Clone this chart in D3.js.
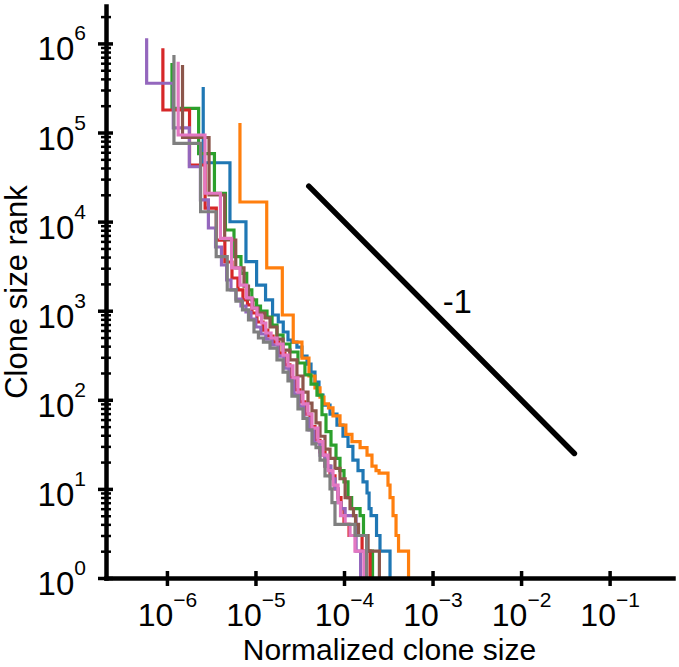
<!DOCTYPE html>
<html>
<head>
<meta charset="utf-8">
<script src="https://cdn.jsdelivr.net/npm/d3@7"></script>
<style>
body { margin: 0; background: #fff; }
svg { display: block; font-family: "Liberation Sans", Arial, Helvetica, sans-serif; }
</style>
</head>
<body>
<script>

// normalized clone size (x) and rank at the top of each step (y)
const blueSize = [2.57e-6, 5.15e-6, 7.81e-6, 1.03e-5, 1.30e-5, 1.56e-5, 1.81e-5, 2.06e-5, 2.33e-5, 2.58e-5, 2.94e-5, 3.35e-5, 3.82e-5, 4.24e-5, 4.70e-5, 5.22e-5, 5.79e-5, 6.95e-5, 8.33e-5, 9.74e-5, 1.11e-4, 1.26e-4, 1.44e-4, 1.64e-4, 1.82e-4, 1.92e-4, 2.02e-4, 2.33e-4, 2.55e-4, 3.31e-4];
const blueRank = [3.24e5, 4.58e4, 9970, 3550, 1940, 1320, 895, 747, 577, 469, 445, 391, 310, 252, 205, 158, 113, 87, 69, 52, 39, 30, 21, 16, 12, 9, 6, 5, 3, 2];

const orangeSize = [6.68e-6, 1.34e-5, 2.01e-5, 2.67e-5, 3.35e-5, 4.02e-5, 4.70e-5, 5.36e-5, 5.94e-5, 6.68e-5, 7.51e-5, 9.01e-5, 1.05e-4, 1.23e-4, 1.52e-4, 1.82e-4, 2.07e-4, 2.30e-4, 2.49e-4, 3.14e-4, 3.31e-4, 3.58e-4, 3.87e-4, 4.13e-4, 5.36e-4];
const orangeRank = [1.28e5, 1.66e4, 3020, 895, 445, 294, 185, 136, 107, 90, 81, 66, 52, 41, 34, 29, 24, 18, 16, 15, 11, 8, 5, 3, 2];

const greenSize = [1.14e-6, 2.28e-6, 3.44e-6, 4.58e-6, 5.72e-6, 6.86e-6, 7.97e-6, 9.10e-6, 1.03e-5, 1.14e-5, 1.35e-5, 1.54e-5, 1.75e-5, 2.05e-5, 2.45e-5, 3.02e-5, 3.62e-5, 4.24e-5, 4.95e-5, 5.64e-5, 6.26e-5, 7.13e-5, 8.12e-5, 9.01e-5, 1.0e-4, 1.11e-4, 1.22e-4, 1.52e-4, 1.66e-4, 1.80e-4, 2.10e-4];
const greenRank = [6.03e5, 1.87e5, 5.81e4, 2.08e4, 8050, 4040, 2630, 1710, 1320, 1130, 992, 850, 691, 534, 423, 344, 259, 190, 150, 113, 68, 44, 31, 22, 16, 12, 8, 6, 5, 3, 2];

const redSize = [9.0e-7, 1.80e-6, 2.70e-6, 3.61e-6, 4.51e-6, 5.43e-6, 6.34e-6, 7.22e-6, 8.12e-6, 9.13e-6, 1.04e-5, 1.22e-5, 1.38e-5, 1.58e-5, 1.84e-5, 2.15e-5, 2.45e-5, 2.80e-5, 3.18e-5, 3.62e-5, 4.13e-5, 4.70e-5, 5.36e-5, 6.10e-5, 6.95e-5, 7.91e-5, 8.56e-5, 9.25e-5, 1.0e-4, 1.14e-4, 1.60e-4, 1.97e-4];
const redRank = [8.81e5, 1.79e5, 4.32e4, 1.42e4, 6200, 3520, 2330, 1710, 1320, 1160, 942, 747, 607, 520, 445, 335, 246, 176, 129, 95, 69, 50, 35, 26, 18, 14, 10, 8, 6, 4, 3, 2];

const purpleSize = [5.90e-7, 1.18e-6, 1.79e-6, 2.39e-6, 2.94e-6, 3.54e-6, 4.13e-6, 4.72e-6, 5.29e-6, 6.02e-6, 6.86e-6, 7.81e-6, 8.90e-6, 1.01e-5, 1.15e-5, 1.31e-5, 1.54e-5, 1.80e-5, 2.10e-5, 2.39e-5, 2.72e-5, 3.10e-5, 3.53e-5, 4.02e-5, 4.58e-5, 5.36e-5, 6.10e-5, 7.13e-5, 7.91e-5, 8.56e-5, 9.25e-5, 1.03e-4, 1.37e-4, 1.54e-4];
const purpleRank = [1.14e6, 3.57e5, 1.13e5, 4.13e4, 1.75e4, 8480, 5190, 3260, 2210, 1710, 1350, 1130, 967, 807, 656, 548, 481, 412, 310, 227, 167, 116, 85, 62, 46, 33, 24, 18, 13, 10, 7, 6, 5, 2];

const brownSize = [1.50e-6, 2.99e-6, 4.49e-6, 5.99e-6, 7.42e-6, 8.34e-6, 9.37e-6, 1.07e-5, 1.28e-5, 1.46e-5, 1.75e-5, 2.05e-5, 2.45e-5, 2.94e-5, 3.44e-5, 3.92e-5, 4.35e-5, 4.83e-5, 5.36e-5, 6.10e-5, 6.95e-5, 7.91e-5, 9.01e-5, 1.03e-4, 1.17e-4, 1.28e-4, 1.35e-4, 1.46e-4, 1.87e-4, 2.51e-4];
const brownRank = [5.72e5, 8.79e4, 1.99e4, 6220, 3020, 1890, 1350, 1070, 942, 828, 656, 481, 362, 280, 185, 122, 92, 75, 55, 39, 28, 22, 17, 13, 8, 6, 5, 4, 3, 2];

const pinkSize = [1.34e-6, 2.69e-6, 4.02e-6, 5.37e-6, 6.68e-6, 7.91e-6, 9.13e-6, 1.04e-5, 1.17e-5, 1.31e-5, 1.50e-5, 1.75e-5, 2.05e-5, 2.33e-5, 2.65e-5, 3.02e-5, 3.44e-5, 3.92e-5, 4.35e-5, 5.08e-5, 5.79e-5, 6.59e-5, 7.51e-5, 8.56e-5, 9.13e-5, 1.03e-4, 1.17e-4, 1.33e-4, 1.68e-4];
const pinkRank = [6.23e5, 9.38e4, 2.08e4, 6500, 3020, 1940, 1390, 1070, 895, 728, 562, 494, 423, 318, 240, 176, 122, 90, 69, 48, 34, 24, 16, 11, 7, 5, 4, 3, 2];

const graySize = [1.20e-6, 2.40e-6, 3.60e-6, 4.80e-6, 6.02e-6, 7.13e-6, 8.34e-6, 9.62e-6, 1.08e-5, 1.23e-5, 1.46e-5, 1.75e-5, 2.05e-5, 2.33e-5, 2.58e-5, 3.02e-5, 3.44e-5, 3.82e-5, 4.35e-5, 4.83e-5, 5.36e-5, 6.10e-5, 6.95e-5, 7.31e-5, 7.91e-5, 1.33e-4, 1.80e-4];
const grayRank = [7.41e5, 7.56e4, 1.29e4, 4040, 1710, 1280, 1020, 787, 577, 494, 445, 381, 280, 205, 163, 110, 79, 62, 46, 32, 29, 21, 14, 10, 7, 4, 3];

// slope -1 guide line
const refSize = [4.0e-5, 4.0e-2];
const refRank = [2.5e4, 25];
const refLabel = '-1';
const refLabelAt = [1.3e-3, 940];

const xTickValues = [1e-6, 1e-5, 1e-4, 1e-3, 1e-2, 1e-1];
const xTickLabels = ['\u22126', '\u22125', '\u22124', '\u22123', '\u22122', '\u22121'];
const yTickValues = [1, 1e1, 1e2, 1e3, 1e4, 1e5, 1e6];
const yTickLabels = ['0', '1', '2', '3', '4', '5', '6'];

const series = [
    { size: blueSize, rank: blueRank, color: '#1f77b4' },
    { size: orangeSize, rank: orangeRank, color: '#ff7f0e' },
    { size: greenSize, rank: greenRank, color: '#2ca02c' },
    { size: redSize, rank: redRank, color: '#d62728' },
    { size: purpleSize, rank: purpleRank, color: '#9467bd' },
    { size: brownSize, rank: brownRank, color: '#8c564b' },
    { size: pinkSize, rank: pinkRank, color: '#e377c2' },
    { size: graySize, rank: grayRank, color: '#7f7f7f' },
];

const width = 679;
const height = 667;
const plotLeft = 106;
const plotRight = 673;
const plotBottom = 578;
const plotTop = 6;

const x = d3.scaleLog()
    .domain([2.05e-7, 0.52])
    .range([plotLeft, plotRight]);

const y = d3.scaleLog()
    .domain([1, 2.63e6])
    .range([plotBottom, plotTop]);

const svg = d3.select('body').append('svg')
    .attr('width', width)
    .attr('height', height)
    .style('background', '#fff');

const stairs = d3.line()
    .x(d => x(d[0]))
    .y(d => y(d[1]))
    .curve(d3.curveStepBefore);

series.forEach((s) => {
    const pts = s.size.map((v, i) => [v, s.rank[i]]);
    pts.push([s.size[s.size.length - 1], 1]);
    svg.append('path')
        .attr('d', stairs(pts))
        .attr('fill', 'none')
        .attr('stroke', s.color)
        .attr('stroke-width', 3.2);
});

const refLine = d3.line()
    .x(d => x(d[0]))
    .y(d => y(d[1]));

svg.append('path')
    .attr('d', refLine(refSize.map((v, i) => [v, refRank[i]])))
    .attr('stroke', '#000')
    .attr('stroke-width', 5.5)
    .attr('stroke-linecap', 'round')
    .attr('fill', 'none');

svg.append('text')
    .attr('x', x(refLabelAt[0]))
    .attr('y', y(refLabelAt[1]))
    .style('font-size', '33px')
    .text(refLabel);

// minor ticks on the rank axis
const yMinor = y.ticks().filter(v => yTickValues.indexOf(v) < 0);

const yMinorAxis = svg.append('g')
    .attr('transform', `translate(${plotLeft},0)`)
    .call(d3.axisLeft(y).tickValues(yMinor).tickSize(5).tickFormat(''));
yMinorAxis.select('.domain').remove();
yMinorAxis.selectAll('.tick line')
    .attr('x1', 5)
    .attr('stroke-width', 2.5);

const yAxis = svg.append('g')
    .attr('transform', `translate(${plotLeft},0)`)
    .call(d3.axisLeft(y).tickValues(yTickValues).tickSize(8).tickSizeOuter(0).tickFormat(''));
yAxis.select('.domain')
    .attr('stroke-width', 4.5)
    .attr('stroke-linecap', 'square');
yAxis.selectAll('.tick line')
    .attr('x1', 7)
    .attr('stroke-width', 3.5);
yAxis.selectAll('.tick text').remove();

const yLab = yAxis.selectAll('.tick').append('text')
    .attr('x', -20)
    .attr('y', 16.5)
    .attr('text-anchor', 'end')
    .attr('fill', '#000')
    .style('font-size', '33px')
    .style('font-family', '"Liberation Sans", Arial, sans-serif');
yLab.append('tspan').text('10');
yLab.append('tspan')
    .attr('dy', -20)
    .style('font-size', '21px')
    .text((d, i) => yTickLabels[i]);

const xAxis = svg.append('g')
    .attr('transform', `translate(0,${plotBottom})`)
    .call(d3.axisBottom(x).tickValues(xTickValues).tickSize(8).tickSizeOuter(0).tickFormat(''));
xAxis.select('.domain')
    .attr('stroke-width', 4.5)
    .attr('stroke-linecap', 'square');
xAxis.selectAll('.tick line')
    .attr('y1', -7)
    .attr('stroke-width', 3.5);
xAxis.selectAll('.tick text').remove();

const xLab = xAxis.selectAll('.tick').append('text')
    .attr('y', 48)
    .attr('text-anchor', 'middle')
    .attr('fill', '#000')
    .style('font-size', '32px')
    .style('font-family', '"Liberation Sans", Arial, sans-serif');
xLab.append('tspan').text('10');
xLab.append('tspan')
    .attr('dy', -19)
    .style('font-size', '21px')
    .text((d, i) => xTickLabels[i]);

svg.append('text')
    .attr('x', (plotLeft + plotRight) / 2)
    .attr('y', 660)
    .attr('text-anchor', 'middle')
    .style('font-size', '30px')
    .text('Normalized clone size');

svg.append('text')
    .attr('transform', `translate(27,${(plotTop + plotBottom) / 2}) rotate(-90)`)
    .attr('text-anchor', 'middle')
    .style('font-size', '31px')
    .text('Clone size rank');

</script>
</body>
</html>
